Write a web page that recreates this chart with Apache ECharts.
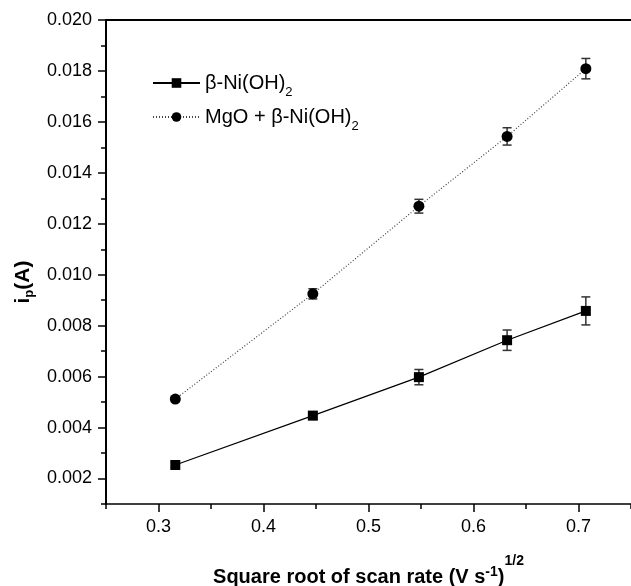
<!DOCTYPE html>
<html>
<head>
<meta charset="utf-8">
<script src="https://cdn.jsdelivr.net/npm/echarts@6/dist/echarts.min.js"></script>
<style>
  html, body { margin: 0; padding: 0; background: #fff; }
  #chart { width: 631px; height: 586px; }
</style>
</head>
<body>
<div id="chart"></div>
<script>
// square root of scan rate, (V s^-1)^1/2
const scanRoot = [0.316, 0.447, 0.548, 0.632, 0.707];
// peak current i_p (A)
const niOH = [0.00253, 0.00447, 0.00598, 0.00743, 0.00858];
const niOHErr = [0.0001, 0.00015, 0.0003, 0.0004, 0.00055];
const mgoNiOH = [0.00512, 0.00925, 0.01269, 0.01543, 0.01809];
const mgoNiOHErr = [0.0001, 0.0002, 0.00027, 0.00034, 0.0004];

const xMajor = [0.3, 0.4, 0.5, 0.6, 0.7];
const yMajor = [0.002, 0.004, 0.006, 0.008, 0.010, 0.012, 0.014, 0.016, 0.018, 0.020];

const FONT = 'Liberation Sans, Arial, sans-serif';

const pts = (ys) => scanRoot.map((x, i) => [x, ys[i]]);
const errPts = (ys, es) => scanRoot.map((x, i) => [x, ys[i], es[i]]);

// vertical error bar with caps, placed through the axis scales
const errorBar = (params, api) => {
  const x = api.value(0), y = api.value(1), e = api.value(2);
  const lo = api.coord([x, y - e]);
  const hi = api.coord([x, y + e]);
  const half = 4.5;
  const style = { stroke: '#333', lineWidth: 1.5 };
  return {
    type: 'group',
    children: [
      { type: 'line', shape: { x1: lo[0], y1: lo[1], x2: hi[0], y2: hi[1] }, style },
      { type: 'line', shape: { x1: lo[0] - half, y1: lo[1], x2: lo[0] + half, y2: lo[1] }, style },
      { type: 'line', shape: { x1: hi[0] - half, y1: hi[1], x2: hi[0] + half, y2: hi[1] }, style }
    ]
  };
};

const chart = echarts.init(document.getElementById('chart'));

const xBase = { type: 'value', min: 0.25, max: 0.75, interval: 0.05, splitLine: { show: false } };
const yBase = { type: 'value', min: 0.001, max: 0.020, interval: 0.001, splitLine: { show: false } };

chart.setOption({
  animation: false,
  textStyle: { fontFamily: FONT, color: '#000' },
  grid: { left: 106, right: 0, top: 20, bottom: 82, outerBoundsMode: 'none' },
  legend: {
    left: 152,
    top: 67,
    padding: 0,
    orient: 'vertical',
    itemWidth: 47,
    itemHeight: 12,
    itemGap: 2,
    formatter: (name) => name === 'ni' ? '{m|β-Ni(OH)}{sub|2}' : '{m|MgO + β-Ni(OH)}{sub|2}',
    textStyle: {
      rich: {
        m: { fontFamily: FONT, fontSize: 20, color: '#000', lineHeight: 22 },
        sub: { fontFamily: FONT, fontSize: 13, color: '#000', lineHeight: 13, padding: [19, 0, 0, 0] }
      }
    },
    data: ['ni', 'mgo']
  },
  xAxis: [
    Object.assign({}, xBase, {
      position: 'bottom',
      axisLine: { lineStyle: { color: '#000', width: 1.5 } },
      axisTick: { inside: false, length: 5, lineStyle: { color: '#000', width: 1.5 } },
      axisLabel: {
        customValues: xMajor, margin: 14, fontSize: 18, color: '#000', fontFamily: FONT,
        formatter: (v) => v.toFixed(1)
      },
      name: '{b|Square root of scan rate (V s}{s1|-1}{b|)}{s2|1/2}',
      nameLocation: 'middle',
      nameGap: 61,
      nameTextStyle: {
        rich: {
          b: { fontFamily: FONT, fontSize: 20, fontWeight: 'bold', color: '#000', lineHeight: 24 },
          s1: { fontFamily: FONT, fontSize: 14, fontWeight: 'bold', color: '#000', lineHeight: 14, padding: [0, 0, 10, 0] },
          s2: { fontFamily: FONT, fontSize: 14, fontWeight: 'bold', color: '#000', lineHeight: 14, padding: [0, 0, 32, 0] }
        }
      }
    }),
    Object.assign({}, xBase, {
      position: 'bottom',
      axisLine: { show: false },
      axisTick: { customValues: xMajor, length: 8, lineStyle: { color: '#000', width: 1.5 } },
      axisLabel: { show: false }
    }),
    Object.assign({}, xBase, {
      position: 'top',
      axisLine: { lineStyle: { color: '#000', width: 2 } },
      axisTick: { show: false },
      axisLabel: { show: false }
    })
  ],
  yAxis: [
    Object.assign({}, yBase, {
      position: 'left',
      axisLine: { lineStyle: { color: '#000', width: 2 } },
      axisTick: { length: 5, lineStyle: { color: '#000', width: 1.5 } },
      axisLabel: {
        customValues: yMajor, margin: 14, fontSize: 18, color: '#000', fontFamily: FONT,
        formatter: (v) => v.toFixed(3)
      },
      name: '{b|i}{sub|p}{b|(A)}',
      nameLocation: 'middle',
      nameGap: 69,
      nameTextStyle: {
        padding: [0, 40, 0, 0],
        rich: {
          b: { fontFamily: FONT, fontSize: 21, fontWeight: 'bold', color: '#000', lineHeight: 24 },
          sub: { fontFamily: FONT, fontSize: 13, fontWeight: 'bold', color: '#000', lineHeight: 13, padding: [12, 0, 0, 0] }
        }
      }
    }),
    Object.assign({}, yBase, {
      position: 'left',
      axisLine: { show: false },
      axisTick: { customValues: yMajor, length: 8, lineStyle: { color: '#000', width: 1.5 } },
      axisLabel: { show: false }
    })
  ],
  series: [
    {
      type: 'custom', name: 'niErr', renderItem: errorBar, z: 1,
      data: errPts(niOH, niOHErr)
    },
    {
      type: 'custom', name: 'mgoErr', renderItem: errorBar, z: 1,
      data: errPts(mgoNiOH, mgoNiOHErr)
    },
    {
      type: 'line', name: 'ni', z: 3,
      data: pts(niOH),
      symbol: 'rect', symbolSize: 10,
      itemStyle: { color: '#000' },
      lineStyle: { color: '#000', width: 1.2 }
    },
    {
      type: 'line', name: 'mgo', z: 3,
      data: pts(mgoNiOH),
      symbol: 'circle', symbolSize: 11,
      itemStyle: { color: '#000' },
      lineStyle: { color: '#444', width: 1.2, type: [1, 2] }
    }
  ]
});
</script>
</body>
</html>
